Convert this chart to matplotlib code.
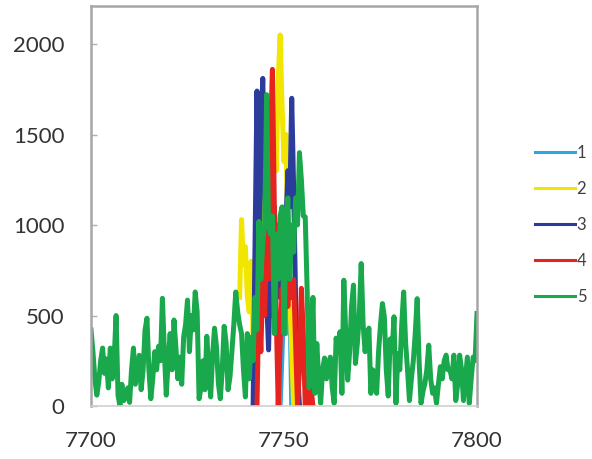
import numpy as np
import matplotlib
matplotlib.use("Agg")
import matplotlib.pyplot as plt

plt.rcParams['font.family'] = ['Lato', 'DejaVu Sans']

# wavelength grid, 0.5 step
wl_start, wl_stop, wl_step = 7700, 7800, 0.5

# series 5 covers the whole range
s5 = [
    420, 300, 150, 60, 130, 250, 320, 180, 260, 100,
    320, 150, 260, 500, 60, 0, 120, 30, 50, 100,
    20, 200, 320, 120, 200, 280, 90, 200, 420, 485,
    200, 40, 150, 300, 200, 330, 250, 595, 300, 60,
    250, 400, 200, 475, 320, 150, 270, 120, 380, 450,
    585, 300, 500, 420, 630, 520, 40, 100, 250, 90,
    385, 200, 50, 280, 430, 330, 125, 40, 200, 440,
    350, 90, 160, 300, 450, 630, 520, 450, 400, 200,
    50, 400, 150, 380, 250, 600, 420, 1020, 700, 900,
    1000, 1720, 1000, 950, 1050, 400, 950, 700, 1050, 1100,
    400, 950, 1150, 700, 1000, 850, 1150, 1000, 1400, 1250,
    1050, 1045, 640, 100, 300, 600, 70, 345, 150, 15,
    200, 265, 150, 220, 270, 100, 15, 375, 300, 410,
    70, 695, 400, 143, 300, 550, 668, 235, 345, 500,
    787, 450, 300, 380, 430, 70, 200, 150, 70, 300,
    450, 566, 490, 200, 55, 370, 300, 493, 15, 290,
    200, 450, 630, 350, 200, 30, 150, 250, 400, 593,
    250, 15, 80, 125, 200, 336, 150, 70, 100, 15,
    120, 217, 150, 250, 281, 200, 200, 150, 281, 30,
    120, 281, 200, 30, 150, 270, 15, 150, 270, 250,
    511,
]

# the other series only cover the central line
s1_start = 7749.0
s1 = [0, 300, 600, 400, 500, 650, 0]

s2_start = 7738.5
s2 = [600, 1030, 780, 880, 600, 520, 800, 400, 700, 350,
      900, 600, 1200, 800, 1300, 1000, 1500, 1100, 1650, 1300,
      1800, 2050, 1650, 1350, 1500, 900, 600, 300, 0]

s3_start = 7742.0
s3 = [0, 900, 1740, 900, 1500, 1810, 1200, 600, 310, 800,
      500, 1100, 700, 1000, 600, 900, 500, 1000, 1300, 1100,
      1700, 1200, 600, 200, 0]

s4_start = 7743.0
s4 = [0, 600, 300, 700, 500, 950, 700, 1500, 1860, 1100,
      500, 0, 350, 650, 450, 650, 550, 700, 600, 700,
      350, 0, 200, 650, 400, 0, 100, 0, 100, 0]

colors = ['#2fa6dd', '#f2e600', '#2b3c9b', '#e5231f', '#19a84b']
labels = ['1', '2', '3', '4', '5']


def grid(start, vals):
    return start + wl_step * np.arange(len(vals))


series = [
    (grid(s1_start, s1), s1),
    (grid(s2_start, s2), s2),
    (grid(s3_start, s3), s3),
    (grid(s4_start, s4), s4),
    (grid(wl_start, s5), s5),
]

fig = plt.figure(figsize=(5.92, 4.59), dpi=100)
ax = fig.add_axes([91 / 592, 53 / 459, 386 / 592, 400 / 459])

for (x, y), c, lab in zip(series, colors, labels):
    ax.plot(x, y, color=c, lw=3.6, label=lab)

ax.set_xlim(wl_start, wl_stop)
ax.set_ylim(0, 2210)
ax.set_xticks([7700, 7750, 7800])
ax.set_yticks([0, 500, 1000, 1500, 2000])

for sp in ax.spines.values():
    sp.set_color('#a6a6a6')
    sp.set_linewidth(1.8)
ax.spines['bottom'].set_color('#d0d0d0')
ax.spines['bottom'].set_linewidth(1.2)

ax.tick_params(axis='y', direction='in', length=4, width=1, color='#b0b0b0',
               labelsize=16, labelcolor='#333333', pad=19)
ax.tick_params(axis='x', direction='in', length=0,
               labelsize=16, labelcolor='#333333', pad=18)

handles, labs = ax.get_legend_handles_labels()
leg = fig.legend(handles, labs, loc='upper left', bbox_to_anchor=(535 / 592, 1 - 145 / 459),
                 frameon=False, fontsize=12, handlelength=2.4, handletextpad=0.1,
                 labelspacing=1.2, borderpad=0, borderaxespad=0)
for ln in leg.get_lines():
    ln.set_linewidth(2.2)
for t in leg.get_texts():
    t.set_color('#404040')

fig.savefig('out.png', dpi=100)
